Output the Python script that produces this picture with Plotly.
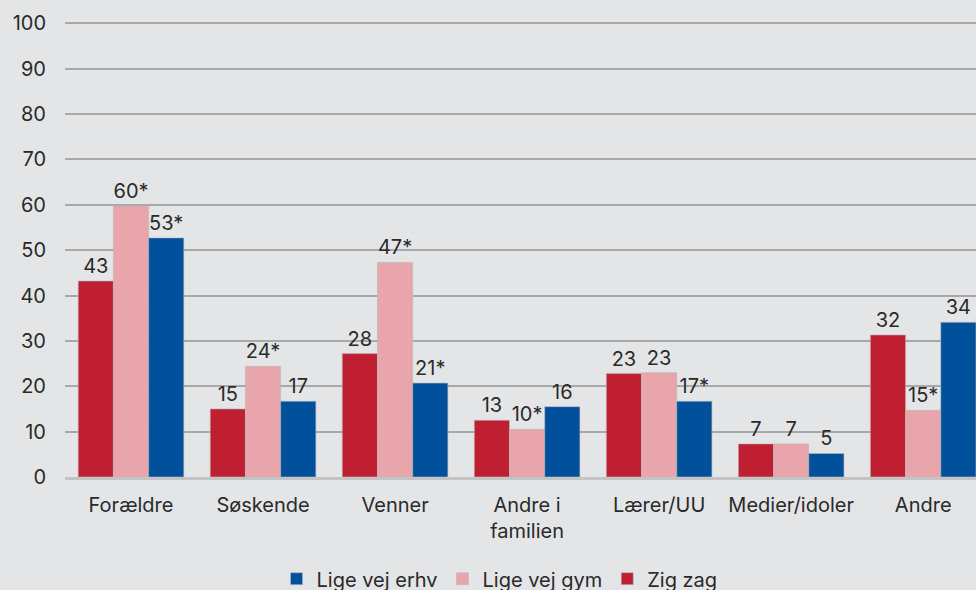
import plotly.graph_objects as go

categories = ["Forældre", "Søskende", "Venner", "Andre i<br>familien", "Lærer/UU", "Medier/idoler", "Andre"]
zig_zag = [43.2, 15.0, 27.2, 12.5, 22.8, 7.3, 31.3]
zig_zag_labels = ["43", "15", "28", "13", "23", "7", "32"]
gym = [59.7, 24.4, 47.3, 10.5, 23.0, 7.3, 14.7]
gym_labels = ["60*", "24*", "47*", "10*", "23", "7", "15*"]
erhv = [52.7, 16.7, 20.7, 15.5, 16.7, 5.2, 34.1]
erhv_labels = ["53*", "17", "21*", "16", "17*", "5", "34"]

series = [
    ("Zig zag", zig_zag, zig_zag_labels, "#c01f32"),
    ("Lige vej gym", gym, gym_labels, "#e8a5ab"),
    ("Lige vej erhv", erhv, erhv_labels, "#00509c"),
]

FS = 20
fig = go.Figure()
for name, vals, labels, color in series:
    fig.add_trace(go.Bar(
        x=categories, y=vals, name=name, text=labels,
        textposition="outside", cliponaxis=False,
        textfont=dict(size=FS, color="#2a2a2a"),
        marker=dict(color=color, line=dict(color="#b8b8b8", width=0.6)),
    ))

bg = "#e4e5e7"
fig.update_layout(
    width=976, height=590,
    paper_bgcolor=bg, plot_bgcolor=bg,
    font=dict(family="Inter, Roboto, sans-serif", size=FS, color="#2a2a2a"),
    margin=dict(l=65, r=0, t=21, b=113, autoexpand=False),
    barmode="group", bargap=0.2, bargroupgap=0,
    showlegend=True,
    legend=dict(orientation="h", traceorder="reversed", x=0.477, xanchor="center",
                y=-0.223, yanchor="middle", font=dict(size=FS, color="#2a2a2a"),
                itemwidth=30, bgcolor="rgba(0,0,0,0)"),
)
fig.update_xaxes(range=[-0.5, 6.4], showgrid=False, showline=True, linecolor="#c4c4c4",
                 linewidth=3, ticks="", tickfont=dict(size=FS), ticklabelstandoff=8,
                 automargin=False)
fig.update_yaxes(range=[0, 100.5], tickvals=list(range(0, 101, 10)), showgrid=True,
                 gridcolor="#a8a8a8", gridwidth=1.6, zeroline=False, showline=False,
                 ticks="", tickfont=dict(size=FS), ticklabelstandoff=18, automargin=False)

fig.write_html("out.html", config={"displayModeBar": False},
               post_script="document.body.style.margin='0';document.body.style.background='#e4e5e7';")
